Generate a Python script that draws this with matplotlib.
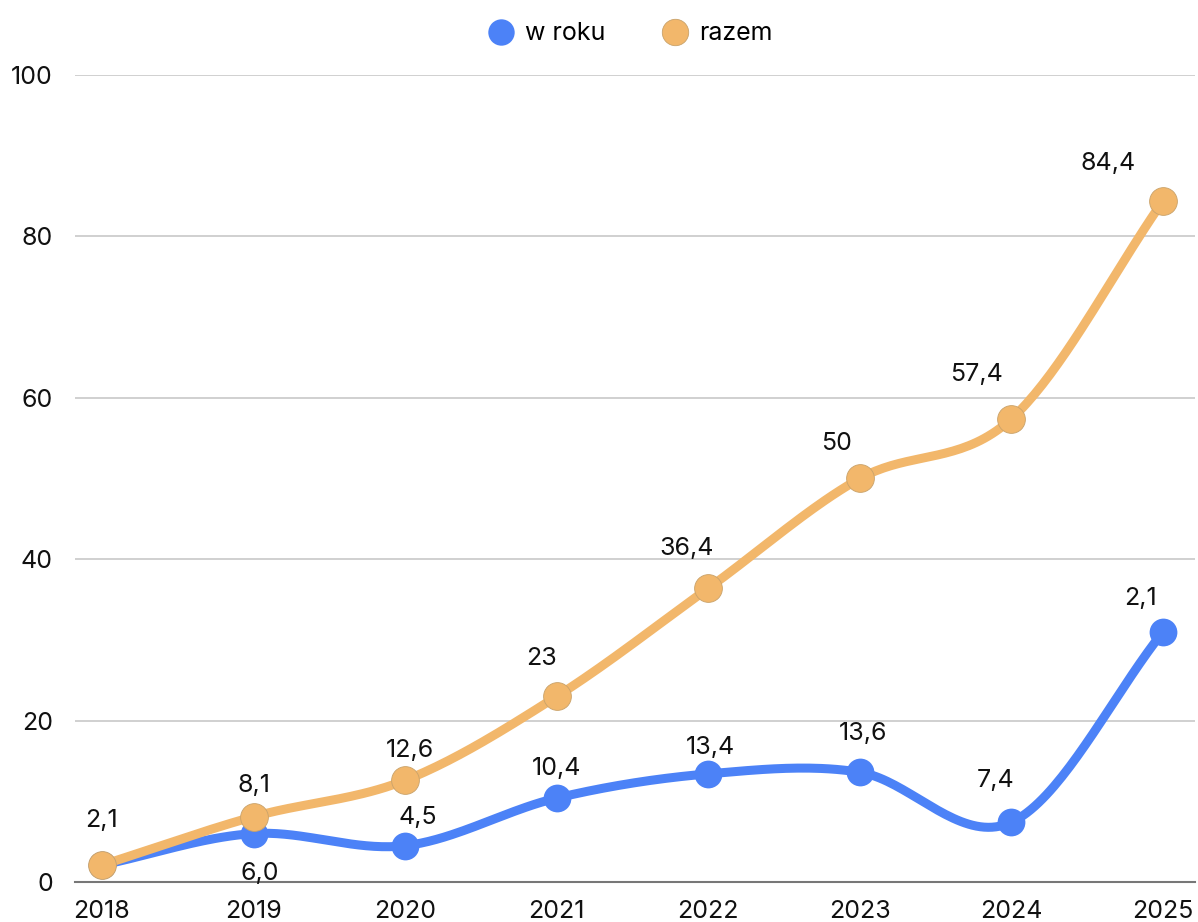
import matplotlib.pyplot as plt
import numpy as np

years = [2018, 2019, 2020, 2021, 2022, 2023, 2024, 2025]
w_roku = [2.1, 6.0, 4.5, 10.4, 13.4, 13.6, 7.4, 31.0]
razem = [2.1, 8.1, 12.6, 23, 36.4, 50, 57.4, 84.4]
w_roku_labels = ["", "6,0", "4,5", "10,4", "13,4", "13,6", "7,4", "2,1"]
razem_labels = ["2,1", "8,1", "12,6", "23", "36,4", "50", "57,4", "84,4"]

# label offsets in pixels (dx, dy) to keep them off the lines
blue_off = [(0, 0), (6, -40), (13, 28), (0, 30), (2, 26), (3, 39), (-16, 42), (-23, 33)]
orange_off = [(0, 45), (0, 31), (5, 30), (-15, 38), (-22, 40), (-23, 35), (-35, 44), (-55, 37)]

BLUE = '#4C82F7'
ORANGE = '#F2B76B'

plt.rcParams['font.family'] = ['Inter', 'DejaVu Sans']


def smooth(x, y, n=40):
    # catmull-rom curve through the points (just for drawing)
    x = np.asarray(x, float)
    y = np.asarray(y, float)
    px = np.concatenate([[2 * x[0] - x[1]], x, [2 * x[-1] - x[-2]]])
    py = np.concatenate([[2 * y[0] - y[1]], y, [2 * y[-1] - y[-2]]])
    xs, ys = [], []
    t = np.linspace(0, 1, n)
    for i in range(1, len(px) - 2):
        for p, out in ((px, xs), (py, ys)):
            p0, p1, p2, p3 = p[i - 1], p[i], p[i + 1], p[i + 2]
            out.extend(0.5 * ((2 * p1) + (-p0 + p2) * t
                              + (2 * p0 - 5 * p1 + 4 * p2 - p3) * t ** 2
                              + (-p0 + 3 * p1 - 3 * p2 + p3) * t ** 3))
    return np.array(xs), np.array(ys)


fig = plt.figure(figsize=(11.98, 9.22), dpi=100)
ax = fig.add_axes([75 / 1198, 40 / 922, 1120 / 1198, 807 / 922])

for vals, col, lab in ((w_roku, BLUE, 'w roku'), (razem, ORANGE, 'razem')):
    sx, sy = smooth(years, vals)
    ax.plot(sx, sy, color=col, lw=6.5, solid_capstyle='round', zorder=3)
    ax.plot(years, vals, 'o', color=col, ms=20, mec='#c9a26a' if col == ORANGE else col,
            mew=0.6 if col == ORANGE else 0, zorder=4, label=lab)

for x, v, t, (dx, dy) in zip(years, w_roku, w_roku_labels, blue_off):
    if t:
        ax.annotate(t, (x, v), xytext=(dx, dy), textcoords='offset pixels',
                    ha='center', va='center', fontsize=18, color='#111111', zorder=5)
for x, v, t, (dx, dy) in zip(years, razem, razem_labels, orange_off):
    ax.annotate(t, (x, v), xytext=(dx, dy), textcoords='offset pixels',
                ha='center', va='center', fontsize=18, color='#111111', zorder=5)

ax.set_xlim(2018 - 27 / 151.6, 2025 + 32 / 151.6)
ax.set_ylim(0, 100)
ax.set_yticks([0, 20, 40, 60, 80, 100])
ax.set_xticks(years)
ax.yaxis.grid(True, color='#c8c8c8', lw=1.2)
ax.set_axisbelow(True)
for s in ['top', 'right', 'left']:
    ax.spines[s].set_visible(False)
ax.spines['bottom'].set_color('#777777')
ax.spines['bottom'].set_linewidth(1.5)
ax.spines['bottom'].set_zorder(2)
ax.tick_params(axis='both', length=0, labelsize=18, colors='#111111')
ax.tick_params(axis='y', pad=16)
ax.tick_params(axis='x', pad=13)

leg = fig.legend(loc='upper center', bbox_to_anchor=(0.525, 1.0), ncol=2, frameon=False,
                 fontsize=18, markerscale=0.95, handletextpad=0.35, columnspacing=2.2,
                 handlelength=1.2)

fig.savefig('out.png', dpi=100)
